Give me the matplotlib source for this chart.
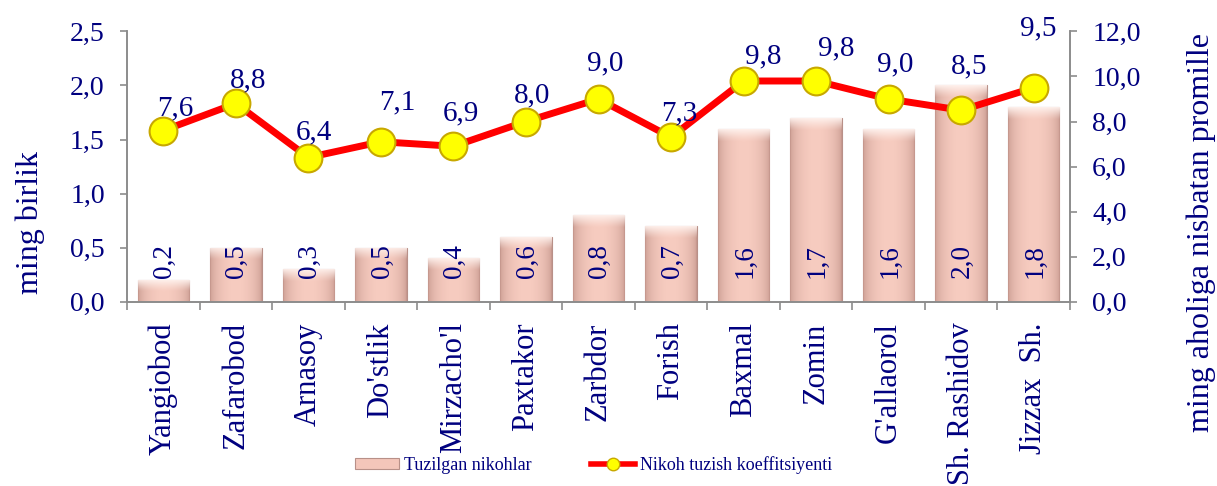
import numpy as np
import matplotlib
matplotlib.use("Agg")
import matplotlib.pyplot as plt
from matplotlib.lines import Line2D
from matplotlib.patches import Patch

plt.rcParams['font.family'] = ['Liberation Serif', 'DejaVu Serif']

# ---------------- data ----------------
categories = ["Yangiobod", "Zafarobod", "Arnasoy", "Do'stlik", "Mirzacho'l",
              "Paxtakor", "Zarbdor", "Forish", "Baxmal", "Zomin",
              "G'allaorol", "Sh. Rashidov", "Jizzax  Sh."]
marriages = [0.2, 0.5, 0.3, 0.5, 0.4, 0.6, 0.8, 0.7, 1.6, 1.7, 1.6, 2.0, 1.8]   # ming birlik
coef = [7.6, 8.8, 6.4, 7.1, 6.9, 8.0, 9.0, 7.3, 9.8, 9.8, 9.0, 8.5, 9.5]        # promille
left_ticks = [0.0, 0.5, 1.0, 1.5, 2.0, 2.5]
right_ticks = [0.0, 2.0, 4.0, 6.0, 8.0, 10.0, 12.0]
series_names = ["Tuzilgan nikohlar", "Nikoh tuzish koeffitsiyenti"]

# label placement offsets (pixels, dx, dy upward) for line value labels
label_offsets = [(12, 22), (12, 23), (6, 25), (16, 39), (7, 33), (6, 26), (7, 36),
                 (8, 24), (20, 25), (20, 33), (7, 35), (8, 44), (5, 59)]

navy = '#00007f'
gray = '#8c8c8c'


def fmt(v):
    return f"{v:.1f}".replace('.', ',')


fig = plt.figure(figsize=(12.17, 4.86), dpi=100)
ax = fig.add_axes([0.1044, 0.3796, 0.7748, 0.5556])
ax2 = ax.twinx()

x = np.arange(len(categories))
bars = ax.bar(x, marriages, width=0.71, color='#f4c6ba', edgecolor='#b89088',
              linewidth=0.8, zorder=2)

ax.set_xlim(-0.5, len(categories) - 0.5)
ax.set_ylim(left_ticks[0], left_ticks[-1])
ax2.set_ylim(right_ticks[0], right_ticks[-1])

# gradient fill on bars
axes_px_h = ax.get_position().height * fig.get_figheight() * fig.dpi
edge_c = np.array([196, 150, 140]) / 255
mid_c = np.array([247, 204, 192]) / 255
cap_c = np.array([255, 244, 240]) / 255
for p in bars.patches:
    x0, w, h = p.get_x(), p.get_width(), p.get_height()
    hpx = h / (left_ticks[-1] - left_ticks[0]) * axes_px_h
    nr, nc = 200, 60
    t = np.linspace(0, 1, nc)
    prof = np.sin(np.pi * t) ** 0.45
    row = edge_c[None, :] + (mid_c - edge_c)[None, :] * prof[:, None]
    img = np.repeat(row[None, :, :], nr, axis=0)
    cap_frac = min(12.0 / max(hpx, 1), 0.5)
    yy = np.linspace(0, 1, nr)  # 0 at top
    capw = np.clip(1 - yy / cap_frac, 0, 1) ** 1.2
    img = img + (cap_c[None, None, :] - img) * capw[:, None, None] * 0.9
    im = ax.imshow(img, extent=[x0, x0 + w, 0, h], aspect='auto', zorder=2.2,
                   interpolation='bilinear')
    im.set_clip_path(p)
ax.set_xlim(-0.5, len(categories) - 0.5)
ax.set_ylim(left_ticks[0], left_ticks[-1])

# bar value labels
for xi, v in zip(x, marriages):
    ax.annotate(fmt(v), (xi, 0), xytext=(1, 24), textcoords='offset pixels',
                rotation=90, ha='center', va='bottom', fontsize=19.5, color=navy,
                zorder=5)

# line
ax2.plot(x, coef, color='#ff0000', linewidth=5, marker='o', markersize=20,
         markerfacecolor='#ffff00', markeredgecolor='#c8a800',
         markeredgewidth=1.5, zorder=4)
for xi, v, (dx, dy) in zip(x, coef, label_offsets):
    ax2.annotate(fmt(v), (xi, v), xytext=(dx, dy), textcoords='offset pixels',
                 ha='center', va='center', fontsize=21, color=navy, zorder=6)

# axes styling
for a in (ax, ax2):
    a.spines['top'].set_visible(False)
    for s in ('left', 'right', 'bottom'):
        a.spines[s].set_color(gray)
        a.spines[s].set_linewidth(1.2)

ax.set_yticks(left_ticks)
ax.set_yticklabels([fmt(v) for v in left_ticks])
ax2.set_yticks(right_ticks)
ax2.set_yticklabels([fmt(v) for v in right_ticks])
ax.tick_params(axis='y', direction='out', length=5, width=1.2, color=gray,
               labelsize=20, labelcolor=navy, pad=11)
ax2.tick_params(axis='y', direction='out', length=5, width=1.2, color=gray,
                labelsize=20, labelcolor=navy, pad=11)

ax.set_xticks(x)
ax.set_xticklabels(categories, rotation=90, fontsize=22, color=navy)
ax.set_xticks(np.arange(-0.5, len(categories), 1), minor=True)
ax.tick_params(axis='x', which='major', length=0, pad=15)
ax.tick_params(axis='x', which='minor', length=6, width=1.2, color=gray,
               direction='out')

ax.set_ylabel('ming birlik', fontsize=23, color=navy)
ax.yaxis.label.set_va('center')
ax.yaxis.set_label_coords(-0.103, 0.294)
ax2.set_ylabel('ming aholiga nisbatan promille', fontsize=23, color=navy,
               rotation=90)
ax2.yaxis.label.set_va('center')
ax2.yaxis.set_label_coords(1.139, 0.257)

# legend
h_bar = Patch(facecolor='#f4c6ba', edgecolor='#b89088', linewidth=0.8)
h_line = Line2D([], [], color='#ff0000', linewidth=4, marker='o', markersize=9,
                markerfacecolor='#ffff00', markeredgecolor='#c8a800')
leg = fig.legend([h_bar, h_line], series_names, loc='center',
                 bbox_to_anchor=(0.488, 0.043), ncol=2, frameon=False,
                 fontsize=13, labelcolor=navy, handlelength=2.4,
                 handleheight=0.6, handletextpad=0.3, columnspacing=3.3)
leg.set_zorder(10)

fig.savefig('out.png', dpi=100)
